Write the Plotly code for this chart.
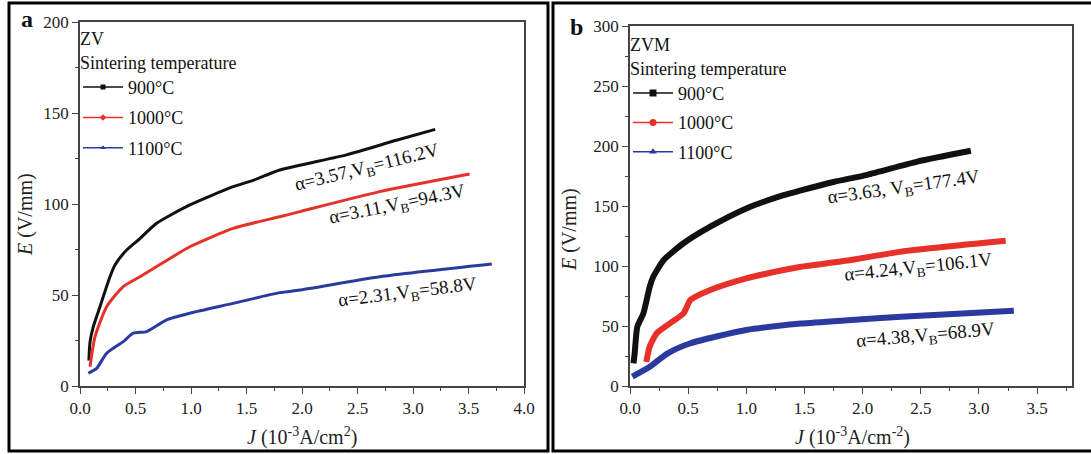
import plotly.graph_objects as go

W, H = 1091, 454
FONT = "Liberation Serif"

# ---------------- data ----------------
# Panel a: ZV
zv_900_J = [0.08, 0.09, 0.12, 0.18, 0.27, 0.315, 0.42, 0.54, 0.69, 0.99, 1.38, 1.56, 1.8, 2.4, 2.85, 3.2]
zv_900_E = [14, 24, 32.6, 43.6, 60, 66.5, 74.7, 81, 89.4, 99.5, 109.5, 113, 118.7, 127, 135, 141]
zv_1000_J = [0.09, 0.135, 0.24, 0.39, 0.54, 0.78, 0.99, 1.38, 1.8, 1.98, 2.7, 3.51]
zv_1000_E = [10.6, 27, 43.6, 54.6, 60, 69, 76.5, 86.6, 93, 95.8, 106.8, 116.5]
zv_1100_J = [0.075, 0.15, 0.24, 0.39, 0.48, 0.6, 0.78, 0.99, 1.38, 1.8, 1.98, 2.7, 3.71]
zv_1100_E = [7, 9.7, 18, 24.4, 29, 29.9, 36.3, 40, 45.4, 51.3, 52.7, 60, 67]

# Panel b: ZVM
zvm_900_J = [0.03, 0.04, 0.063, 0.115, 0.17, 0.2, 0.29, 0.46, 0.69, 1.0, 1.32, 1.47, 1.75, 2.04, 2.47, 2.93]
zvm_900_E = [18.9, 27, 49.4, 60.5, 82.8, 91, 105, 119, 132.8, 148, 159, 163, 170, 176, 187, 196]
zvm_1000_J = [0.14, 0.17, 0.23, 0.34, 0.46, 0.52, 0.69, 1.0, 1.32, 1.47, 1.9, 2.33, 3.23]
zvm_1000_E = [20, 33, 44, 52, 60.5, 71.7, 80, 89.7, 96.7, 99.4, 105, 112, 121]
zvm_1100_J = [0.02, 0.17, 0.32, 0.52, 1.0, 1.47, 1.9, 2.33, 3.3]
zvm_1100_E = [7.8, 16, 27, 35.6, 46.7, 52, 55, 57.8, 62.7]

temps = ["900°C", "1000°C", "1100°C"]
colors = ["#111111", "#e8302a", "#2b3a9e"]
symbols_a = ["square", "diamond", "triangle-up"]
symbols_b = ["square", "circle", "triangle-up"]

labels_a = ["α=3.57,V<sub>B</sub>=116.2V", "α=3.11,V<sub>B</sub>=94.3V", "α=2.31,V<sub>B</sub>=58.8V"]
labels_a_pos = [(2.59, 119.8, -14), (2.86, 99.5, -11.5), (2.95, 51, -7)]
labels_b = ["α=3.63, V<sub>B</sub>=177.4V", "α=4.24,V<sub>B</sub>=106.1V", "α=4.38,V<sub>B</sub>=68.9V"]
labels_b_pos = [(2.35, 165, -8), (2.48, 98.3, -6), (2.54, 41.7, -5)]

xticks_a = [0.0, 0.5, 1.0, 1.5, 2.0, 2.5, 3.0, 3.5, 4.0]
xticks_b = [0.0, 0.5, 1.0, 1.5, 2.0, 2.5, 3.0, 3.5]


def fx(px):
    return px / W


def fy(py):
    return 1 - py / H


fig = go.Figure()

series_a = [(zv_900_J, zv_900_E), (zv_1000_J, zv_1000_E), (zv_1100_J, zv_1100_E)]
series_b = [(zvm_900_J, zvm_900_E), (zvm_1000_J, zvm_1000_E), (zvm_1100_J, zvm_1100_E)]

for i, (xs, ys) in enumerate(series_a):
    fig.add_trace(go.Scatter(x=xs, y=ys, mode="lines", line=dict(color=colors[i], width=3, shape="spline", smoothing=0.6),
                             xaxis="x", yaxis="y", showlegend=False, hoverinfo="skip"))
    fig.add_trace(go.Scatter(x=[None], y=[None], mode="lines+markers", name=temps[i],
                             line=dict(color=colors[i], width=1.5),
                             marker=dict(symbol=symbols_a[i], size=5, color=colors[i]),
                             xaxis="x", yaxis="y", legend="legend", legendgroup="a%d" % i))

for i, (xs, ys) in enumerate(series_b):
    fig.add_trace(go.Scatter(x=xs, y=ys, mode="lines", line=dict(color=colors[i], width=6, shape="spline", smoothing=0.6),
                             xaxis="x2", yaxis="y2", showlegend=False, hoverinfo="skip"))
    fig.add_trace(go.Scatter(x=[None], y=[None], mode="lines+markers", name=temps[i],
                             line=dict(color=colors[i], width=1.5),
                             marker=dict(symbol=symbols_b[i], size=7, color=colors[i]),
                             xaxis="x2", yaxis="y2", legend="legend2", legendgroup="b%d" % i))

axis_common = dict(
    showgrid=False, zeroline=False, showline=True, linecolor="#444444", linewidth=1.5, mirror=True,
    ticks="outside", ticklen=6, tickwidth=1.3, tickcolor="#444444",
    tickfont=dict(family=FONT, size=17, color="#222222"),
)
minor = dict(ticks="outside", ticklen=3, tickwidth=1.2, tickcolor="#444444", showgrid=False)

LEG_FONT = dict(family=FONT, size=18, color="#111111")

fig.update_layout(
    width=W, height=H,
    margin=dict(l=0, r=0, t=0, b=0, autoexpand=False),
    paper_bgcolor="white", plot_bgcolor="white",
    xaxis=dict(domain=[fx(80), fx(524)], range=[0, 4.0], tickvals=xticks_a, tickformat=".1f",
               minor=dict(dtick=0.25, **minor), anchor="y", **axis_common),
    yaxis=dict(domain=[fy(386), fy(22)], range=[0, 200], dtick=50,
               minor=dict(dtick=25, **minor), anchor="x", **axis_common),
    xaxis2=dict(domain=[fx(630), fx(1072)], range=[0, 3.8], tickvals=xticks_b, tickformat=".1f",
                minor=dict(dtick=0.25, **minor), anchor="y2", **axis_common),
    yaxis2=dict(domain=[fy(386), fy(26)], range=[0, 300], dtick=50,
                minor=dict(dtick=25, **minor), anchor="x2", **axis_common),
    legend=dict(x=fx(78), y=fy(22), xanchor="left", yanchor="top", bgcolor="rgba(0,0,0,0)",
                font=LEG_FONT, title=dict(text="ZV<br>Sintering temperature", font=LEG_FONT),
                tracegroupgap=4, itemwidth=40),
    legend2=dict(x=fx(628), y=fy(28), xanchor="left", yanchor="top", bgcolor="rgba(0,0,0,0)",
                 font=LEG_FONT, title=dict(text="ZVM<br>Sintering temperature", font=LEG_FONT),
                 tracegroupgap=3, itemwidth=40),
    showlegend=True,
)

# panel borders
fig.add_shape(type="rect", xref="paper", yref="paper", x0=fx(9), x1=fx(548), y0=fy(451), y1=fy(3),
              line=dict(color="black", width=3))
fig.add_shape(type="rect", xref="paper", yref="paper", x0=fx(553), x1=fx(1098), y0=fy(451), y1=fy(3),
              line=dict(color="black", width=3))

ann_font = dict(family=FONT, size=19, color="#111111")
for txt, (ax_, ay_, ang) in zip(labels_a, labels_a_pos):
    fig.add_annotation(x=ax_, y=ay_, xref="x", yref="y", text=txt, showarrow=False, textangle=ang, font=ann_font,
                       xanchor="center", yanchor="middle")
for txt, (ax_, ay_, ang) in zip(labels_b, labels_b_pos):
    fig.add_annotation(x=ax_, y=ay_, xref="x2", yref="y2", text=txt, showarrow=False, textangle=ang, font=ann_font,
                       xanchor="center", yanchor="middle")

title_font = dict(family=FONT, size=20, color="#222222")


def paper_text(px, py, text, font, angle=0):
    fig.add_annotation(x=fx(px), y=fy(py), xref="paper", yref="paper", text=text, textangle=angle,
                       showarrow=False, font=font, xanchor="center", yanchor="middle")


paper_text(25, 215, "<i>E</i> (V/mm)", title_font, -90)
paper_text(569, 230, "<i>E</i> (V/mm)", title_font, -90)
paper_text(302, 436, "<i>J</i> (10<sup>-3</sup>A/cm<sup>2</sup>)", title_font)
paper_text(852, 436, "<i>J</i> (10<sup>-3</sup>A/cm<sup>-2</sup>)", title_font)

panel_font = dict(family=FONT, size=24, color="#111111")
paper_text(27, 19, "<b>a</b>", panel_font)
paper_text(576, 27, "<b>b</b>", panel_font)

fig.write_html("out.html")
